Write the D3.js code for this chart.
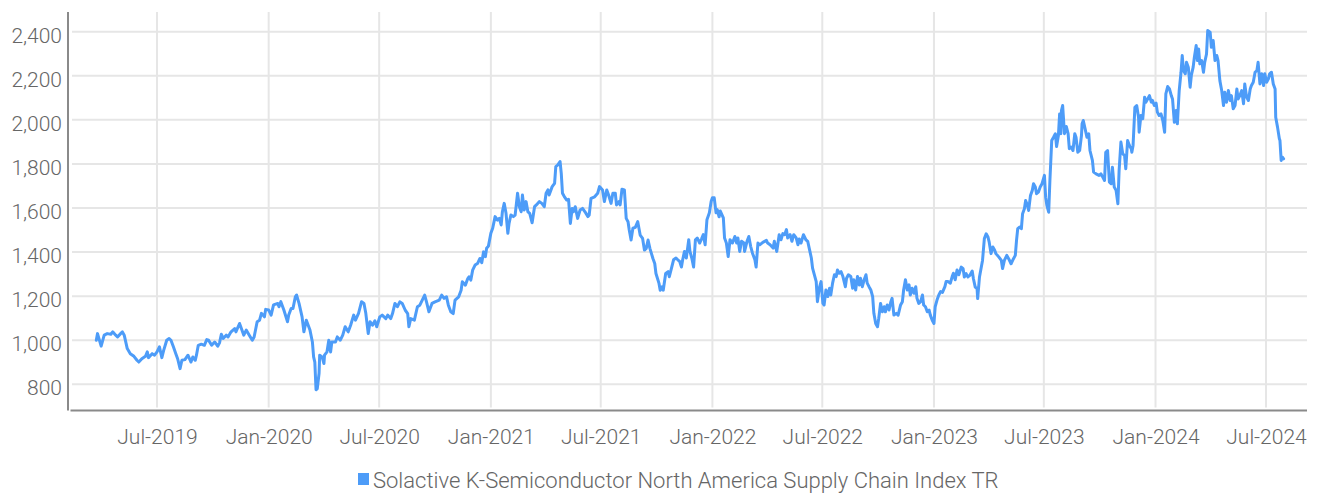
<!DOCTYPE html>
<html><head><meta charset="utf-8">
<script src="https://cdn.jsdelivr.net/npm/d3@7"></script>
<style>body{margin:0;background:#fff} svg{display:block} text{font-family:Roboto, "Noto Sans", sans-serif}</style>
</head><body><svg id="chart" width="1319" height="496"></svg>
<script>
const seriesName = "Solactive K-Semiconductor North America Supply Chain Index TR";
const yTickValues = [800, 1000, 1200, 1400, 1600, 1800, 2000, 2200, 2400];
const xTickDates = ["2019-07-01","2020-01-01","2020-07-01","2021-01-01","2021-07-01","2022-01-01","2022-07-01","2023-01-01","2023-07-01","2024-01-01","2024-07-01"];
const xTickLabels = ["Jul-2019","Jan-2020","Jul-2020","Jan-2021","Jul-2021","Jan-2022","Jul-2022","Jan-2023","Jul-2023","Jan-2024","Jul-2024"];

const indexPoints = [
["2019-03-23",1000],["2019-03-25",1030],["2019-03-31",973],["2019-04-05",1023],["2019-04-10",1030],["2019-04-16",1027],["2019-04-19",1038],["2019-04-24",1023],["2019-04-27",1015],["2019-05-02",1030],["2019-05-05",1038],["2019-05-08",1023],["2019-05-13",962],["2019-05-18",939],["2019-05-24",927],["2019-05-29",909],["2019-06-01",901],["2019-06-06",916],["2019-06-12",927],["2019-06-15",947],["2019-06-17",921],["2019-06-23",939],["2019-06-27",932],["2019-07-01",947],["2019-07-05",970],["2019-07-09",921],["2019-07-12",954],["2019-07-17",1000],["2019-07-21",1008],["2019-07-24",1000],["2019-07-28",970],["2019-08-01",939],["2019-08-04",916],["2019-08-08",871],["2019-08-11",909],["2019-08-16",912],["2019-08-21",932],["2019-08-26",901],["2019-08-29",924],["2019-09-02",909],["2019-09-04",932],["2019-09-07",977],["2019-09-12",982],["2019-09-17",977],["2019-09-21",1003],["2019-09-24",1000],["2019-09-29",977],["2019-10-04",992],["2019-10-09",973],["2019-10-12",988],["2019-10-15",1027],["2019-10-18",1008],["2019-10-23",1023],["2019-10-26",1015],["2019-10-31",1038],["2019-11-06",1053],["2019-11-08",1038],["2019-11-14",1076],["2019-11-17",1053],["2019-11-21",1023],["2019-11-25",1046],["2019-11-30",1023],["2019-12-05",1000],["2019-12-08",1015],["2019-12-13",1084],["2019-12-17",1091],["2019-12-20",1122],["2019-12-25",1106],["2019-12-27",1140],["2020-01-01",1137],["2020-01-05",1114],["2020-01-09",1160],["2020-01-16",1167],["2020-01-18",1152],["2020-01-21",1175],["2020-01-26",1137],["2020-02-01",1084],["2020-02-03",1114],["2020-02-07",1144],["2020-02-10",1144],["2020-02-14",1198],["2020-02-16",1205],["2020-02-20",1167],["2020-02-25",1106],["2020-02-28",1038],["2020-03-03",1091],["2020-03-09",1046],["2020-03-13",992],["2020-03-15",924],["2020-03-17",901],["2020-03-19",775],["2020-03-21",780],["2020-03-24",850],["2020-03-25",932],["2020-03-29",924],["2020-04-01",894],["2020-04-02",932],["2020-04-06",947],["2020-04-09",1000],["2020-04-12",947],["2020-04-14",992],["2020-04-20",992],["2020-04-23",1015],["2020-04-28",1000],["2020-05-02",1023],["2020-05-06",1061],["2020-05-11",1038],["2020-05-15",1068],["2020-05-20",1114],["2020-05-23",1091],["2020-05-28",1122],["2020-06-02",1175],["2020-06-06",1167],["2020-06-09",1122],["2020-06-13",1030],["2020-06-16",1084],["2020-06-20",1068],["2020-06-24",1088],["2020-06-27",1061],["2020-07-02",1106],
["2020-07-06",1114],["2020-07-12",1098],["2020-07-15",1114],["2020-07-20",1098],["2020-07-23",1121],["2020-07-27",1167],["2020-07-31",1152],["2020-08-04",1174],["2020-08-08",1167],["2020-08-13",1136],["2020-08-17",1121],["2020-08-19",1061],["2020-08-22",1098],["2020-08-28",1091],["2020-09-02",1152],["2020-09-06",1159],["2020-09-10",1182],["2020-09-14",1205],["2020-09-17",1174],["2020-09-21",1129],["2020-09-26",1167],["2020-10-01",1174],["2020-10-08",1182],["2020-10-12",1205],["2020-10-16",1190],["2020-10-20",1197],["2020-10-23",1159],["2020-10-27",1129],["2020-10-31",1121],["2020-11-03",1182],["2020-11-09",1197],["2020-11-13",1227],["2020-11-15",1265],["2020-11-20",1250],["2020-11-24",1280],["2020-11-26",1288],["2020-11-29",1273],["2020-12-02",1318],["2020-12-06",1341],["2020-12-10",1348],["2020-12-14",1371],["2020-12-17",1352],["2020-12-20",1401],["2020-12-23",1379],["2020-12-25",1417],["2020-12-28",1427],["2021-01-01",1485],["2021-01-04",1508],["2021-01-08",1561],["2021-01-12",1545],["2021-01-15",1553],["2021-01-18",1523],["2021-01-20",1583],["2021-01-23",1621],["2021-01-26",1576],["2021-01-29",1485],["2021-01-31",1530],["2021-02-03",1568],["2021-02-07",1561],["2021-02-10",1568],["2021-02-14",1667],["2021-02-17",1606],["2021-02-20",1583],["2021-02-22",1659],["2021-02-25",1591],["2021-02-28",1629],["2021-03-03",1583],["2021-03-06",1576],["2021-03-10",1533],["2021-03-14",1606],["2021-03-17",1614],["2021-03-22",1629],["2021-03-26",1621],["2021-03-30",1606],["2021-04-02",1667],["2021-04-05",1682],["2021-04-07",1659],["2021-04-12",1697],["2021-04-16",1712],["2021-04-18",1788],["2021-04-21",1795],["2021-04-25",1811],["2021-04-27",1757],["2021-04-29",1667],["2021-05-02",1652],["2021-05-06",1636],["2021-05-09",1639],["2021-05-12",1530],["2021-05-15",1598],["2021-05-17",1583],["2021-05-20",1606],["2021-05-24",1553],["2021-05-28",1591],["2021-06-01",1598],["2021-06-06",1579],["2021-06-10",1561],["2021-06-12",1568],["2021-06-15",1644],["2021-06-21",1651],["2021-06-26",1667],["2021-06-29",1697],["2021-07-04",1682],["2021-07-07",1629],["2021-07-11",1682],["2021-07-14",1659],["2021-07-18",1621],["2021-07-21",1667],["2021-07-25",1667],["2021-07-27",1614],["2021-07-31",1629],["2021-08-02",1614],["2021-08-05",1685],["2021-08-09",1682],["2021-08-12",1553],["2021-08-15",1538],["2021-08-17",1500],["2021-08-20",1455],["2021-08-23",1508],["2021-08-27",1512],["2021-08-31",1538],["2021-09-04",1477],["2021-09-08",1462],["2021-09-11",1409],["2021-09-14",1417],["2021-09-17",1455],["2021-09-20",1417],["2021-09-25",1371],["2021-09-28",1348],["2021-09-30",1303],["2021-10-05",1258],["2021-10-07",1227],["2021-10-10",1242],["2021-10-12",1227],["2021-10-16",1303],["2021-10-20",1311],["2021-10-22",1288],
["2021-10-26",1332],["2021-10-29",1365],["2021-11-02",1373],["2021-11-05",1365],["2021-11-08",1358],["2021-11-11",1332],["2021-11-13",1365],["2021-11-16",1403],["2021-11-19",1373],["2021-11-23",1456],["2021-11-25",1403],["2021-11-28",1373],["2021-12-01",1332],["2021-12-04",1456],["2021-12-07",1464],["2021-12-11",1441],["2021-12-14",1459],["2021-12-17",1479],["2021-12-20",1433],["2021-12-23",1547],["2021-12-27",1578],["2021-12-30",1631],["2022-01-01",1646],["2022-01-04",1646],["2022-01-07",1578],["2022-01-09",1593],["2022-01-12",1560],["2022-01-14",1586],["2022-01-19",1555],["2022-01-21",1464],["2022-01-24",1441],["2022-01-27",1380],["2022-01-30",1456],["2022-02-03",1441],["2022-02-07",1471],["2022-02-10",1441],["2022-02-12",1464],["2022-02-15",1403],["2022-02-18",1449],["2022-02-22",1441],["2022-02-23",1403],["2022-02-27",1449],["2022-03-02",1471],["2022-03-05",1426],["2022-03-08",1395],["2022-03-12",1365],["2022-03-14",1332],["2022-03-17",1441],["2022-03-20",1433],["2022-03-25",1444],["2022-03-31",1453],["2022-04-02",1441],["2022-04-06",1433],["2022-04-11",1418],["2022-04-13",1449],["2022-04-17",1403],["2022-04-21",1479],["2022-04-24",1456],["2022-04-27",1484],["2022-04-30",1479],["2022-05-03",1502],["2022-05-05",1464],["2022-05-09",1479],["2022-05-12",1449],["2022-05-15",1479],["2022-05-19",1464],["2022-05-22",1433],["2022-05-24",1459],["2022-05-27",1441],["2022-05-31",1479],["2022-06-04",1456],["2022-06-07",1449],["2022-06-10",1411],["2022-06-13",1373],["2022-06-15",1327],["2022-06-18",1297],["2022-06-21",1266],["2022-06-23",1175],["2022-06-26",1236],["2022-06-29",1266],["2022-07-02",1167],["2022-07-04",1160],["2022-07-07",1228],["2022-07-10",1198],["2022-07-13",1236],["2022-07-15",1205],["2022-07-18",1259],["2022-07-21",1297],["2022-07-24",1289],["2022-07-26",1319],["2022-07-29",1304],["2022-08-01",1311],["2022-08-04",1289],["2022-08-08",1243],["2022-08-10",1281],["2022-08-13",1297],["2022-08-17",1289],["2022-08-20",1236],["2022-08-22",1274],["2022-08-25",1228],["2022-08-28",1289],["2022-08-31",1251],["2022-09-02",1281],["2022-09-05",1243],["2022-09-08",1274],["2022-09-11",1297],["2022-09-13",1259],["2022-09-16",1243],["2022-09-19",1228],["2022-09-22",1198],["2022-09-24",1122],["2022-09-27",1076],["2022-09-30",1061],["2022-10-02",1099],["2022-10-05",1167],["2022-10-08",1129],["2022-10-11",1152],["2022-10-13",1129],["2022-10-16",1160],["2022-10-19",1137],["2022-10-22",1175],["2022-10-24",1190],["2022-10-27",1114],["2022-10-31",1122],["2022-11-03",1114],["2022-11-07",1160],["2022-11-10",1175],["2022-11-12",1228],["2022-11-15",1274],["2022-11-18",1228],["2022-11-21",1251],["2022-11-23",1205],["2022-11-26",1236],["2022-11-29",1213],["2022-12-02",1243],["2022-12-04",1190],["2022-12-07",1167],["2022-12-10",1175],["2022-12-13",1205],["2022-12-15",1160],["2022-12-18",1152],["2022-12-21",1129],["2022-12-24",1137],["2022-12-26",1114],["2022-12-29",1092],["2023-01-01",1076],["2023-01-03",1152],["2023-01-06",1182],["2023-01-09",1205],["2023-01-12",1221],["2023-01-15",1217],["2023-01-19",1243],["2023-01-21",1266],["2023-01-24",1266],["2023-01-28",1259],["2023-01-31",1289],["2023-02-02",1304],["2023-02-05",1274],["2023-02-08",1319],["2023-02-11",1297],
["2023-02-15",1332],["2023-02-18",1325],["2023-02-20",1287],["2023-02-23",1302],["2023-02-26",1287],["2023-03-01",1294],["2023-03-05",1314],["2023-03-07",1279],["2023-03-10",1241],["2023-03-13",1234],["2023-03-14",1189],["2023-03-17",1287],["2023-03-20",1332],["2023-03-22",1362],["2023-03-25",1461],["2023-03-28",1483],["2023-03-31",1468],["2023-04-02",1445],["2023-04-05",1393],["2023-04-08",1423],["2023-04-11",1408],["2023-04-13",1393],["2023-04-18",1377],["2023-04-22",1362],["2023-04-24",1325],["2023-04-27",1362],["2023-05-01",1385],["2023-05-04",1370],["2023-05-08",1347],["2023-05-12",1370],["2023-05-15",1385],["2023-05-17",1453],["2023-05-19",1506],["2023-05-22",1513],["2023-05-25",1506],["2023-05-27",1574],["2023-05-30",1597],["2023-06-01",1634],["2023-06-04",1612],["2023-06-06",1589],["2023-06-09",1657],["2023-06-12",1680],["2023-06-14",1710],["2023-06-17",1695],["2023-06-19",1665],["2023-06-22",1672],["2023-06-25",1695],["2023-06-28",1710],["2023-07-02",1748],["2023-07-04",1649],["2023-07-06",1612],["2023-07-09",1581],["2023-07-11",1725],["2023-07-14",1906],["2023-07-17",1921],["2023-07-20",1937],["2023-07-22",1879],["2023-07-25",1929],["2023-07-27",2027],["2023-07-29",1937],["2023-07-30",2042],["2023-08-01",2065],["2023-08-04",1937],["2023-08-07",1970],["2023-08-10",1937],["2023-08-12",1869],["2023-08-15",1876],["2023-08-18",1861],["2023-08-21",1937],["2023-08-23",1921],["2023-08-26",1853],["2023-08-29",1861],["2023-09-01",1929],["2023-09-02",1982],["2023-09-04",1997],["2023-09-07",1959],["2023-09-10",1921],["2023-09-13",1937],["2023-09-15",1861],["2023-09-19",1816],["2023-09-21",1763],["2023-09-25",1755],["2023-09-30",1748],["2023-10-03",1755],["2023-10-06",1740],["2023-10-09",1725],["2023-10-11",1853],["2023-10-14",1861],["2023-10-17",1717],["2023-10-20",1710],["2023-10-22",1785],["2023-10-25",1695],["2023-10-28",1680],["2023-10-31",1619],["2023-11-02",1770],["2023-11-05",1899],["2023-11-08",1846],["2023-11-11",1838],["2023-11-13",1778],["2023-11-16",1906],["2023-11-19",1884],["2023-11-22",1869],["2023-11-23",1853],["2023-11-25",1884],["2023-11-28",2057],["2023-12-01",2065],["2023-12-04",2012],["2023-12-05",1944],["2023-12-08",2020],["2023-12-11",2005],["2023-12-14",2103],["2023-12-16",2080],["2023-12-19",2095],["2023-12-22",2110],["2023-12-25",2080],["2023-12-27",2088],["2023-12-30",2065],["2024-01-02",2076],["2024-01-04",2035],["2024-01-07",2020],["2024-01-10",2027],["2024-01-13",1997],["2024-01-16",1944],["2024-01-18",2118],["2024-01-21",2151],["2024-01-24",2140],["2024-01-27",2110],["2024-01-29",2095],["2024-02-01",1989],["2024-02-04",2042],["2024-02-06",1982],["2024-02-09",2133],["2024-02-12",2216],["2024-02-14",2292],["2024-02-16",2224],["2024-02-19",2209],["2024-02-21",2261],["2024-02-24",2239],["2024-02-27",2148],["2024-02-29",2201],["2024-03-03",2239],["2024-03-05",2284],["2024-03-08",2337],["2024-03-10",2269],["2024-03-12",2322],["2024-03-14",2254],["2024-03-17",2269],["2024-03-20",2216],["2024-03-22",2261],["2024-03-25",2299],["2024-03-27",2405],["2024-03-31",2398],["2024-04-02",2329],["2024-04-05",2360],["2024-04-08",2269],["2024-04-11",2292],["2024-04-13",2269],["2024-04-16",2178],["2024-04-19",2133],["2024-04-22",2065],["2024-04-24",2125],["2024-04-27",2080],["2024-04-30",2133],["2024-05-03",2088],["2024-05-05",2110],["2024-05-08",2050],["2024-05-11",2065],["2024-05-14",2140],["2024-05-16",2095],["2024-05-19",2110],["2024-05-22",2133],["2024-05-25",2073],["2024-05-27",2163],["2024-05-30",2103],["2024-06-02",2088],["2024-06-05",2140],["2024-06-07",2156],["2024-06-10",2171],["2024-06-13",2216],["2024-06-16",2224],["2024-06-18",2261],["2024-06-21",2163],["2024-06-24",2209],["2024-06-27",2156],["2024-06-29",2209],["2024-07-02",2171],["2024-07-05",2186],["2024-07-07",2209],["2024-07-10",2216],["2024-07-13",2163],["2024-07-16",2140],["2024-07-17",2012],["2024-07-20",1967],["2024-07-23",1914],["2024-07-24",1906],["2024-07-26",1816],["2024-07-28",1831],["2024-07-30",1823]
];

const svg = d3.select("#chart");
const parse = d3.timeParse("%Y-%m-%d");
const lineColor = "#4d9cf8";
const textColor = "#666666";
const gridColor = "#e6e6e6";
const axisColor = "#8a8a8a";

const plotLeft = 68, plotRight = 1307, plotTop = 12, plotBottom = 410.5;
const x = d3.scaleTime().domain([parse("2019-07-01"), parse("2024-07-01")]).range([157, 1266]);
const y = d3.scaleLinear().domain([800, 2400]).range([384.3, 31.7]);

// horizontal gridlines
svg.append("g").selectAll("line").data(yTickValues).join("line")
  .attr("x1", plotLeft + 4).attr("x2", plotRight)
  .attr("y1", d => y(d)).attr("y2", d => y(d))
  .attr("stroke", gridColor).attr("stroke-width", 2);
// vertical gridlines
svg.append("g").selectAll("line").data(xTickDates).join("line")
  .attr("x1", d => x(parse(d))).attr("x2", d => x(parse(d)))
  .attr("y1", plotTop).attr("y2", plotBottom - 3)
  .attr("stroke", gridColor).attr("stroke-width", 2);

// y axis
const yAxis = svg.append("g").attr("transform", `translate(${plotLeft},0)`)
  .call(d3.axisLeft(y).tickValues(yTickValues).tickFormat(d3.format(",")).tickSize(0).tickPadding(6));
yAxis.select(".domain").remove();
yAxis.selectAll("text").attr("dy", null).attr("y", 10.5)
  .attr("fill", textColor).style("font-size", "21px").style("font-family", "Roboto").style("font-weight", 300);

// x axis
const xAxis = svg.append("g").attr("transform", `translate(0,${plotBottom})`)
  .call(d3.axisBottom(x).tickValues(xTickDates.map(parse)).tickFormat((d, i) => xTickLabels[i]).tickSize(0));
xAxis.select(".domain").remove();
xAxis.selectAll("text").attr("dy", null).attr("y", 33.5)
  .attr("fill", textColor).style("font-size", "21px").style("font-family", "Roboto").style("font-weight", 300);

// axis lines
svg.append("line").attr("x1", plotLeft).attr("x2", plotLeft).attr("y1", plotTop).attr("y2", plotBottom)
  .attr("stroke", axisColor).attr("stroke-width", 2);
svg.append("line").attr("x1", plotLeft + 2.5).attr("x2", plotRight).attr("y1", plotBottom).attr("y2", plotBottom)
  .attr("stroke", axisColor).attr("stroke-width", 2);

// series line
const line = d3.line().x(d => x(parse(d[0]))).y(d => y(d[1]));
svg.append("path").datum(indexPoints).attr("d", line)
  .attr("fill", "none").attr("stroke", lineColor).attr("stroke-width", 3)
  .attr("stroke-linejoin", "round").attr("stroke-linecap", "round");

// legend
const legend = svg.append("g");
legend.append("rect").attr("x", 358).attr("y", 473).attr("width", 11).attr("height", 12).attr("fill", lineColor);
legend.append("text").attr("x", 373).attr("y", 488).text(seriesName)
  .attr("fill", textColor).style("font-size", "22px").style("font-family", "Roboto").style("font-weight", 300);
</script></body></html>
